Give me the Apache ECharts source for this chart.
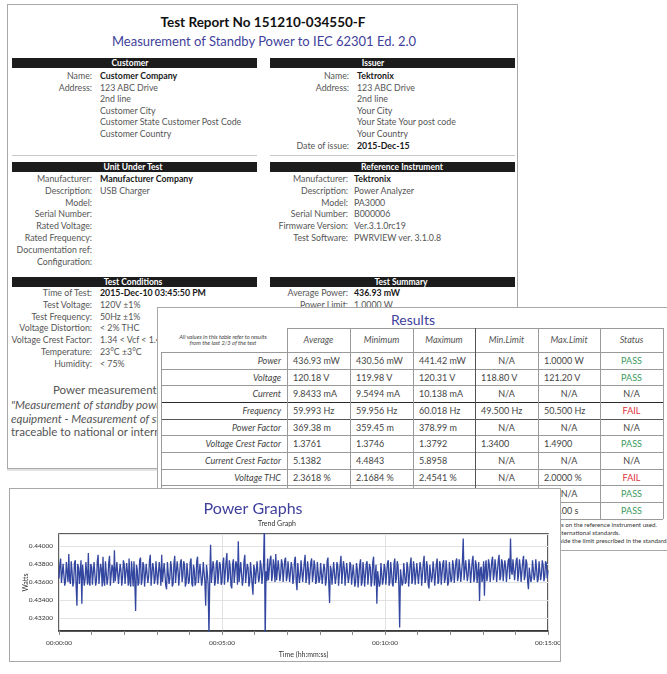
<!DOCTYPE html>
<html>
<head>
<meta charset="utf-8">
<title>Test Report - Power Graphs</title>
<script src="https://cdn.jsdelivr.net/npm/echarts@6/dist/echarts.min.js"></script>
<style>
  html, body { margin: 0; padding: 0; }
  body {
    position: relative; width: 667px; height: 674px; overflow: hidden;
    background: #fff; font-family: Lato, 'Open Sans', sans-serif; color: #444;
  }
  .abs { position: absolute; white-space: nowrap; line-height: 1.2; }
  .sheet { position: absolute; background: #fff; border: 1px solid #a8a8a8; }
  .bar { position: absolute; background: #1c1c1c; }
  .hline { position: absolute; height: 1px; background: #9a9a9a; }
  .vline { position: absolute; width: 1px; background: #9a9a9a; }
</style>
</head>
<body>

<div class="sheet" style="left:7px; top:4px; width:509px; height:463px; z-index:0; box-shadow:0 2px 0 #e2e2e2;"></div>
<div class="sheet" style="left:157px; top:307px; width:520px; height:242px; z-index:2;"></div>
<div class="sheet" style="left:9px; top:488px; width:550px; height:172px; z-index:4;">
  <div id="trend" style="position:absolute; left:0; top:0; width:550px; height:172px;"></div>
</div>

<script>
// ---- report text ----
const customerRows = [
  ['Name:', 'Customer Company', true], ['Address:', '123 ABC Drive'], ['', '2nd line'],
  ['', 'Customer City'], ['', 'Customer State Customer Post Code'], ['', 'Customer Country']
]
const issuerRows = [
  ['Name:', 'Tektronix', true], ['Address:', '123 ABC Drive'], ['', '2nd line'], ['', 'Your City'],
  ['', 'Your State Your post code'], ['', 'Your Country'], ['Date of issue:', '2015-Dec-15', true]
]
const unitRows = [
  ['Manufacturer:', 'Manufacturer Company', true], ['Description:', 'USB Charger'], ['Model:', ''],
  ['Serial Number:', ''], ['Rated Voltage:', ''], ['Rated Frequency:', ''],
  ['Documentation ref:', ''], ['Configuration:', '']
]
const instrumentRows = [
  ['Manufacturer:', 'Tektronix', true], ['Description:', 'Power Analyzer'], ['Model:', 'PA3000'],
  ['Serial Number:', 'B000006'], ['Firmware Version:', 'Ver.3.1.0rc19'], ['Test Software:', 'PWRVIEW ver. 3.1.0.8']
]
const conditionRows = [
  ['Time of Test:', '2015-Dec-10 03:45:50 PM', true], ['Test Voltage:', '120V ±1%'], ['Test Frequency:', '50Hz ±1%'],
  ['Voltage Distortion:', '< 2% THC'], ['Voltage Crest Factor:', '1.34 < Vcf < 1.49'],
  ['Temperature:', '23°C ±3°C'], ['Humidity:', '< 75%']
]
const summaryRows = [['Average Power:', '436.93 mW', true], ['Power Limit:', '1.0000 W']]

// ---- results table ----
const resultHeaders = ['Average', 'Minimum', 'Maximum', 'Min.Limit', 'Max.Limit', 'Status']
const resultRows = [
  ['Power', '436.93 mW', '430.56 mW', '441.42 mW', 'N/A', '1.0000 W', 'PASS'],
  ['Voltage', '120.18 V', '119.98 V', '120.31 V', '118.80 V', '121.20 V', 'PASS'],
  ['Current', '9.8433 mA', '9.5494 mA', '10.138 mA', 'N/A', 'N/A', 'N/A'],
  ['Frequency', '59.993 Hz', '59.956 Hz', '60.018 Hz', '49.500 Hz', '50.500 Hz', 'FAIL'],
  ['Power Factor', '369.38 m', '359.45 m', '378.99 m', 'N/A', 'N/A', 'N/A'],
  ['Voltage Crest Factor', '1.3761', '1.3746', '1.3792', '1.3400', '1.4900', 'PASS'],
  ['Current Crest Factor', '5.1382', '4.4843', '5.8958', 'N/A', 'N/A', 'N/A'],
  ['Voltage THC', '2.3618 %', '2.1684 %', '2.4541 %', 'N/A', '2.0000 %', 'FAIL'],
  ['Power Stability', '0.2514 %', '', '', 'N/A', 'N/A', 'PASS'],
  ['Test Duration', '900.00 s', '', '', '', '900.00 s', 'PASS']
]
const footNotes = [
  '1. Measurement uncertainty depends on the reference instrument used.',
  '2. Instrument calibration traceable to national or international standards.',
  '3. FAIL indicates a value outside the limit prescribed in the standard.'
]

// ---- trend graph: power in mW, one sample every 1.5 s (two rows = one minute) ----
const SAMPLE_SECONDS = 1.5
const powerMw = [
  436.4, 437.9, 438.6, 435.9, 435.7, 438.0, 437.9, 435.6, 436.1, 438.2, 438.3, 436.0, 439.1, 436.2, 435.8, 438.3, 437.2, 435.5, 436.0, 438.1,
  438.4, 435.6, 433.4, 438.0, 437.6, 435.8, 435.9, 438.4, 433.6, 437.9, 437.8, 435.6, 436.3, 438.2, 438.1, 435.7, 439.2, 436.0, 435.6, 438.0,
  437.7, 435.7, 435.5, 438.2, 438.3, 435.6, 436.2, 438.3, 439.0, 435.8, 435.9, 438.0, 437.4, 435.5, 438.8, 436.1, 435.6, 438.3, 437.0, 435.7,
  436.4, 438.1, 438.9, 435.6, 435.4, 437.9, 437.5, 435.9, 439.5, 436.1, 436.1, 438.2, 438.2, 435.8, 435.7, 438.0, 437.3, 435.6, 436.5, 438.4,
  438.0, 435.8, 435.8, 438.1, 437.1, 435.6, 438.6, 436.0, 435.5, 438.3, 436.9, 435.5, 438.3, 436.1, 432.8, 437.9, 437.4, 435.6, 435.9, 438.4,
  438.7, 435.7, 436.2, 438.2, 437.8, 435.5, 435.3, 438.0, 438.1, 435.9, 436.6, 438.3, 439.0, 435.6, 435.7, 438.1, 437.5, 435.8, 436.3, 438.3,
  438.4, 435.7, 435.6, 438.2, 437.2, 435.6, 439.0, 436.0, 436.0, 438.1, 437.9, 435.6, 435.2, 438.2, 438.2, 435.8, 436.4, 438.3, 437.6, 435.5,
  435.8, 438.0, 438.9, 435.9, 436.1, 438.3, 437.3, 435.6, 435.4, 438.2, 438.5, 436.0, 436.7, 438.3, 437.9, 435.5, 435.9, 438.1, 438.3, 435.8,
  436.2, 438.2, 438.6, 435.8, 435.5, 437.9, 437.4, 435.6, 436.0, 438.3, 438.8, 435.9, 435.7, 438.0, 437.9, 435.6, 436.3, 438.2, 438.2, 436.0,
  433.4, 437.9, 437.0, 435.7, 430.0, 436.5, 440.1, 435.9, 435.8, 438.3, 437.6, 435.6, 436.1, 438.1, 438.4, 435.8, 435.6, 438.2, 437.8, 435.7,
  436.0, 438.1, 438.7, 435.7, 435.6, 438.3, 439.2, 436.0, 436.4, 438.4, 437.7, 435.6, 435.3, 438.0, 438.5, 435.9, 436.1, 438.3, 437.9, 435.7,
  440.5, 436.0, 435.8, 438.2, 438.0, 435.6, 436.3, 438.3, 439.0, 435.9, 435.7, 438.0, 437.6, 435.5, 436.0, 438.2, 438.4, 435.7, 434.6, 437.9,
  437.4, 435.8, 435.6, 438.3, 438.3, 436.0, 436.5, 438.4, 437.8, 435.8, 435.9, 438.0, 442.5, 429.5, 437.2, 436.1, 438.6, 436.2, 436.4, 438.5,
  438.9, 436.1, 436.8, 438.5, 437.7, 436.0, 439.1, 436.2, 436.3, 438.4, 438.4, 436.1, 436.9, 438.5, 438.0, 436.0, 436.2, 438.4, 438.7, 436.1,
  436.6, 438.3, 438.5, 436.0, 435.8, 438.2, 437.6, 435.8, 436.4, 438.4, 438.8, 436.1, 435.1, 438.1, 437.9, 435.9, 436.7, 438.4, 438.2, 436.0,
  436.0, 438.2, 439.0, 435.9, 436.5, 438.3, 437.4, 435.7, 435.6, 438.2, 438.6, 436.0, 436.8, 438.4, 437.7, 435.8, 436.1, 438.2, 438.3, 435.9,
  436.3, 438.1, 438.1, 435.8, 435.7, 438.0, 437.5, 435.6, 436.2, 438.3, 438.7, 435.9, 433.7, 437.8, 437.3, 435.7, 435.9, 438.2, 438.4, 435.8,
  436.5, 438.2, 437.8, 435.6, 435.4, 438.0, 438.9, 435.8, 436.0, 438.3, 437.6, 435.6, 435.8, 438.1, 438.2, 435.9, 436.6, 438.2, 437.9, 435.7,
  435.6, 437.9, 438.0, 435.5, 436.1, 438.1, 437.4, 435.4, 435.3, 437.9, 438.5, 435.6, 436.0, 438.2, 437.2, 435.5, 435.5, 438.0, 438.3, 435.7,
  435.9, 438.0, 437.6, 435.5, 436.2, 438.2, 438.8, 435.6, 435.4, 437.9, 433.6, 437.2, 437.3, 435.5, 435.8, 438.1, 438.1, 435.7, 436.3, 438.0,
  437.5, 435.7, 435.7, 438.1, 438.4, 435.6, 436.0, 438.2, 437.1, 435.8, 435.5, 438.0, 438.6, 435.9, 436.4, 438.3, 437.8, 435.6, 431.0, 437.4,
  437.2, 435.6, 435.9, 438.1, 438.2, 435.8, 436.1, 438.2, 437.6, 435.5, 435.4, 438.0, 438.7, 435.8, 436.3, 438.3, 437.4, 435.7, 435.8, 438.1,
  438.3, 435.8, 436.0, 438.2, 437.5, 435.6, 435.6, 438.1, 438.9, 435.9, 436.2, 438.3, 437.7, 435.7, 435.3, 437.9, 438.1, 436.0, 436.5, 438.3,
  437.3, 435.6, 435.8, 438.0, 438.6, 435.8, 436.1, 438.3, 437.9, 435.7, 435.5, 438.1, 438.4, 435.9, 436.4, 438.4, 437.2, 435.6, 436.0, 438.2,
  438.2, 436.0, 436.3, 438.4, 437.8, 435.9, 435.9, 438.3, 438.6, 436.1, 436.6, 438.5, 437.4, 436.0, 436.0, 438.3, 440.8, 436.2, 436.2, 438.4,
  438.5, 436.1, 436.8, 438.5, 437.6, 435.9, 435.7, 438.3, 438.9, 436.0, 436.4, 438.4, 437.9, 435.9, 436.1, 438.2, 433.9, 437.4, 437.7, 436.0,
  436.5, 438.3, 434.5, 437.6, 438.4, 436.1, 436.7, 438.5, 437.9, 436.0, 436.2, 438.3, 438.8, 436.2, 436.9, 438.5, 437.5, 436.0, 435.9, 438.4,
  439.0, 436.2, 436.6, 438.5, 438.2, 436.1, 436.3, 438.4, 437.7, 436.0, 436.0, 438.3, 438.6, 436.3, 440.8, 437.2, 436.8, 438.5, 438.3, 436.2,
  436.4, 438.4, 438.7, 436.1, 436.9, 438.5, 437.6, 436.0, 436.2, 438.3, 438.9, 436.2, 436.7, 438.5, 438.1, 436.1, 435.2, 437.6, 437.8, 436.0,
  436.5, 438.4, 438.5, 436.2, 436.8, 438.5, 437.5, 436.0, 436.3, 438.3, 438.2, 436.2, 436.9, 438.4, 437.9, 436.1, 436.6, 438.3, 438.0, 436.4,
  437.3
]
const yTickValues = [0.432, 0.434, 0.436, 0.438, 0.440]

// place a text: x,y are page coords, y is the text's vertical centre
function put(str, x, y, align, z, css) {
  const el = document.createElement('div')
  el.className = 'abs'
  el.textContent = str
  el.style.left = x + 'px'
  el.style.top = y + 'px'
  el.style.zIndex = z
  const tx = align === 'r' ? '-100%' : align === 'c' ? '-50%' : '0'
  el.style.transform = `translate(${tx}, -50%)`
  Object.assign(el.style, css || {})
  document.body.appendChild(el)
  return el
}

function box(cls, x, y, w, h, z, color) {
  const el = document.createElement('div')
  el.className = cls
  Object.assign(el.style, { left: x + 'px', top: y + 'px', width: w + 'px', height: h + 'px', zIndex: z })
  if (color) el.style.background = color
  document.body.appendChild(el)
}

function section(title, titleX, barX, barY, rows, labelX, valueX, rowY, step) {
  box('bar', barX, barY, 245, 10, 1)
  put(title, titleX, barY + 5, 'c', 1, { color: '#fff', fontWeight: 700, fontSize: '8.5px' })
  rows.forEach((r, i) => {
    const y = rowY + i * step
    if (r[0]) put(r[0], labelX, y, 'r', 1, { fontSize: '8.8px', color: '#555' })
    if (r[1]) put(r[1], valueX, y, 'l', 1, r[2]
      ? { fontSize: '8.8px', color: '#1a1a1a', fontWeight: 700 }
      : { fontSize: '8.8px', color: '#555' })
  })
}

// ---- report page ----
put('Test Report No 151210-034550-F', 263, 22, 'c', 1, { fontSize: '13.5px', fontWeight: 700, color: '#111' })
put('Measurement of Standby Power to IEC 62301 Ed. 2.0', 264, 42, 'c', 1, { fontSize: '13px', color: '#3f3f9c' })

section('Customer', 130, 12, 58, customerRows, 92, 100, 76, 11.6)
section('Issuer', 373, 270, 58, issuerRows, 349, 357, 76, 11.6)
box('hline', 12, 155, 245, 1, 1, '#c8c8c8')
box('hline', 270, 155, 245, 1, 1, '#c8c8c8')
section('Unit Under Test', 133, 12, 162, unitRows, 92, 100, 179, 11.8)
section('Reference Instrument', 402, 270, 162, instrumentRows, 348, 354, 179, 11.8)
section('Test Conditions', 133, 12, 277, conditionRows, 92, 100, 293, 11.8)
section('Test Summary', 401, 270, 277, summaryRows, 348, 354, 293, 11.8)

put('Power measurements were made in accordance with IEC 62301', 53, 390, 'l', 1, { fontSize: '11.5px', color: '#555' })
put('"Measurement of standby power of household electrical', 11, 405, 'l', 1, { fontSize: '11.5px', color: '#555', fontStyle: 'italic' })
put('equipment - Measurement of standby power" with instruments', 11, 418.5, 'l', 1, { fontSize: '11.5px', color: '#555', fontStyle: 'italic' })
put('traceable to national or international standards.', 11, 432, 'l', 1, { fontSize: '11.5px', color: '#555' })

// ---- results panel ----
put('Results', 413, 320, 'c', 3, { fontSize: '14px', color: '#3f3f9c' })
const colX = [161, 287, 350, 413, 475, 538, 600, 663]
const rowY = [328, 352]
for (let i = 0; i < resultRows.length; i++) rowY.push(352 + (i + 1) * 16.67)

box('hline', colX[1], rowY[0], colX[7] - colX[1], 1, 3)
for (let i = 1; i < rowY.length; i++) {
  const dark = i === 4 ? '#2a2a2a' : i === 5 ? '#555' : null
  box('hline', colX[0], rowY[i], colX[7] - colX[0], 1, 3, dark)
}
colX.forEach((x, i) => {
  const top = i === 0 ? rowY[1] : rowY[0]
  box('vline', x, top, 1, rowY[rowY.length - 1] - top, 3, i === 4 ? '#555' : null)
})

resultHeaders.forEach((h, i) => {
  put(h, (colX[i + 1] + colX[i + 2]) / 2, 340, 'c', 3, { fontSize: '9px', fontStyle: 'italic', color: '#555' })
})
put('All values in this table refer to results', 223, 336.5, 'c', 3, { fontSize: '5.8px', fontStyle: 'italic', color: '#444' })
put('from the last 2/3 of the test', 223, 343, 'c', 3, { fontSize: '5.8px', fontStyle: 'italic', color: '#444' })

const statusColor = { PASS: '#3b9a5e', FAIL: '#e0303c', 'N/A': '#444' }
resultRows.forEach((r, i) => {
  const y = (rowY[i + 1] + rowY[i + 2]) / 2 + 0.5
  put(r[0], 281, y, 'r', 3, { fontSize: '9px', fontStyle: 'italic', color: '#444' })
  for (let c = 1; c <= 6; c++) {
    const v = r[c]
    if (!v) continue
    const x0 = colX[c], x1 = colX[c + 1]
    if (c === 6) put(v, (x0 + x1) / 2, y, 'c', 3, { fontSize: '9px', color: statusColor[v] })
    else if (c >= 4 && v === 'N/A') put(v, (x0 + x1) / 2, y, 'c', 3, { fontSize: '9px', color: '#444' })
    else put(v, x0 + 6, y, 'l', 3, { fontSize: '9px', color: '#444' })
  }
})
const noteEnds = [657, 620, 668]
footNotes.forEach((t, i) => {
  put(t, noteEnds[i], 524.5 + i * 8.3, 'r', 3, { fontSize: '6.2px', color: '#333' })
})

// ---- trend graph ----
const pad = n => String(n).padStart(2, '0')
const hms = s => `${pad(Math.floor(s / 3600))}:${pad(Math.floor(s / 60) % 60)}:${pad(Math.round(s) % 60)}`
const trendData = powerMw.map((mw, i) => [i * SAMPLE_SECONDS, mw / 1000])

const chart = echarts.init(document.getElementById('trend'))
chart.setOption({
  animation: false,
  title: [
    {
      text: 'Power Graphs', left: 243, top: 12, textAlign: 'center', padding: 0,
      textStyle: { color: '#3f3f9c', fontSize: 16, fontWeight: 'normal', fontFamily: 'Lato' }
    },
    {
      text: 'Trend Graph', left: 267, top: 31, textAlign: 'center', padding: 0,
      textStyle: { color: '#333', fontSize: 7, fontWeight: 'normal', fontFamily: 'Lato' }
    }
  ],
  grid: {
    left: 49, right: 12, top: 45, bottom: 30,
    show: true, borderColor: '#2b2b2b', borderWidth: 1.5,
    containLabel: false, outerBoundsMode: 'none'
  },
  xAxis: {
    type: 'value', min: 0, max: 900, interval: 300,
    name: 'Time (hh:mm:ss)', nameLocation: 'middle', nameGap: 19,
    nameTextStyle: { fontSize: 7, color: '#333', fontFamily: 'Lato' },
    axisLine: { lineStyle: { color: '#2b2b2b', width: 1.5 } },
    axisTick: { inside: false, length: 4, lineStyle: { color: '#888' } },
    minorTick: { show: true, splitNumber: 5, length: 4, lineStyle: { color: '#888' } },
    axisLabel: { fontSize: 6.5, color: '#333', margin: 8, fontFamily: 'Lato', formatter: v => hms(v) },
    splitLine: { show: true, lineStyle: { color: '#e2e2e2' } }
  },
  yAxis: {
    type: 'value', min: 0.4306, max: 0.4413, splitNumber: 5, minInterval: 0.002, maxInterval: 0.002,
    name: 'Watts', nameLocation: 'middle', nameGap: 30, nameMoveOverlap: false,
    nameTextStyle: { fontSize: 7, color: '#333', fontFamily: 'Lato' },
    axisLine: { show: false },
    axisTick: { show: false },
    axisLabel: {
      fontSize: 6.5, color: '#333', margin: 6, fontFamily: 'Lato',
      showMinLabel: false, showMaxLabel: false,
      formatter: v => yTickValues.some(t => Math.abs(t - v) < 1e-7) ? v.toFixed(5) : ''
    },
    splitLine: { show: true, lineStyle: { color: '#e2e2e2' } }
  },
  series: [
    {
      name: 'Power', type: 'line', data: trendData,
      symbol: 'none', clip: true,
      lineStyle: { width: 1.3, color: '#3447a0' }
    }
  ]
})
</script>
</body>
</html>
